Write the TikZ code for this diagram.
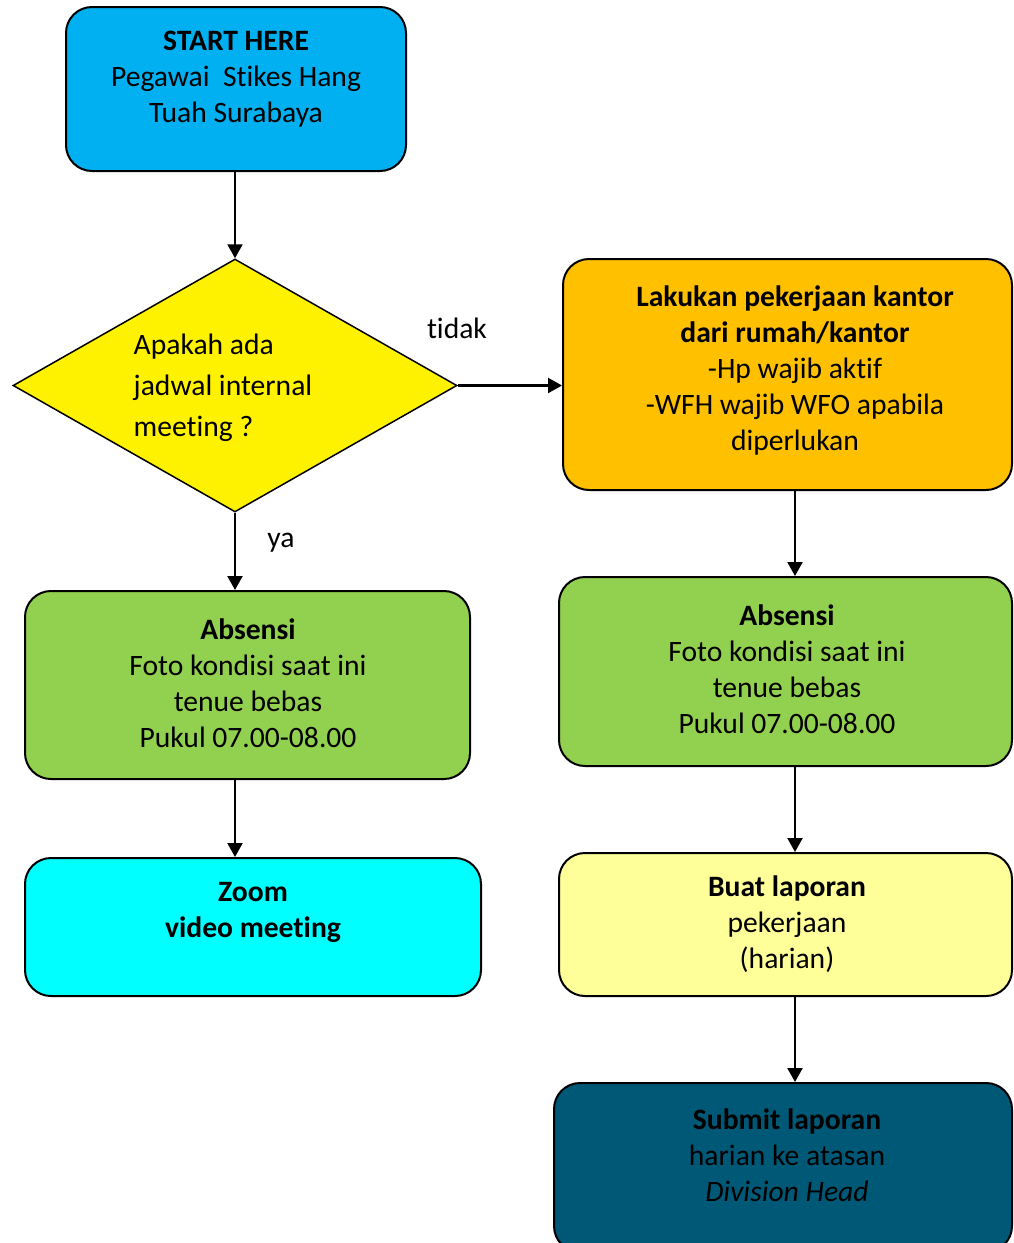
\documentclass[tikz,border=0pt]{standalone}
\usepackage{fontspec}
\setmainfont{Carlito}[Ligatures=NoCommon]
\usetikzlibrary{shapes.geometric,arrows.meta}

\definecolor{startblue}{HTML}{00B0F0}
\definecolor{kantororange}{HTML}{FFC000}
\definecolor{absgreen}{HTML}{92D050}
\definecolor{zoomcyan}{HTML}{00FFFF}
\definecolor{lapyellow}{HTML}{FFFF99}
\definecolor{submitteal}{HTML}{005877}

\begin{document}
\begin{tikzpicture}
[x=0.5pt,y=-0.5pt,
box/.style={rectangle,rounded corners=13pt,draw=black,line width=1pt,inner sep=0pt},
txt/.style={align=center,inner sep=0pt,font=\fontsize{14.8}{18}\selectfont},
flow/.style={-{Triangle[length=7pt,width=7.5pt]},line width=1.1pt}]
\useasboundingbox (0,0) rectangle (1013,1243);

\node[box,fill=startblue,minimum width=170pt,minimum height=82pt] (start) at (236,89) {};
\node[txt] (startTxt) at (236,79) {\textbf{START HERE}\\Pegawai~~Stikes Hang\\Tuah Surabaya};

\node[diamond,draw=black,line width=0.75pt,fill=yellow,inner sep=0pt,aspect=1.75,minimum width=222pt,minimum height=126.5pt] (dec) at (235,385.5) {};
\node[txt,align=left,font=\fontsize{14.8}{20.5}\selectfont] (decTxt) at (223,388) {Apakah ada\\jadwal internal\\meeting ?};

\node[box,fill=kantororange,minimum width=224.5pt,minimum height=115.5pt] (kantor) at (787.5,374.5) {};
\node[txt] (kantorTxt) at (795,370) {\textbf{Lakukan pekerjaan kantor}\\\textbf{dari rumah/kantor}\\-Hp wajib aktif\\-WFH wajib WFO apabila\\diperlukan};

\node[box,fill=absgreen,minimum width=222.5pt,minimum height=94pt] (absL) at (247.5,685) {};
\node[txt] (absLTxt) at (248,683) {\textbf{Absensi}\\Foto kondisi saat ini\\tenue bebas\\Pukul 07.00-08.00};

\node[box,fill=zoomcyan,minimum width=228pt,minimum height=69pt] (zoom) at (253,927) {};
\node[txt] (zoomTxt) at (253,912) {\textbf{Zoom}\\\textbf{video meeting}};

\node[box,fill=absgreen,minimum width=226.5pt,minimum height=94.5pt] (absR) at (785.5,671.5) {};
\node[txt] (absRTxt) at (787,669) {\textbf{Absensi}\\Foto kondisi saat ini\\tenue bebas\\Pukul 07.00-08.00};

\node[box,fill=lapyellow,minimum width=226.5pt,minimum height=71.5pt] (buat) at (785.5,924.5) {};
\node[txt] (buatTxt) at (787,924) {\textbf{Buat laporan}\\pekerjaan\\(harian)};

\node[box,fill=submitteal,minimum width=229pt,minimum height=84.5pt] (submit) at (783,1167.5) {};
\node[txt] (submitTxt) at (787,1155) {\textbf{Submit laporan}\\harian ke atasan\\\textit{Division Head}};

\node[txt] (lblTidak) at (457,328) {tidak};
\node[txt] (lblYa) at (281,543) {ya};

\coordinate (rcol) at (795,0);

% left column
\draw[flow] (start.south -| dec.north) -- (dec.north);
\draw[flow] (dec.south) -- (dec.south |- absL.north);
\draw[flow] (absL.south -| dec.south) -- (zoom.north -| dec.south);
% right column
\draw[flow] (dec.east) -- (dec.east -| kantor.west);
\draw[flow] (kantor.south -| rcol) -- (absR.north -| rcol);
\draw[flow] (absR.south -| rcol) -- (buat.north -| rcol);
\draw[flow] (buat.south -| rcol) -- (submit.north -| rcol);
\end{tikzpicture}
\end{document}
